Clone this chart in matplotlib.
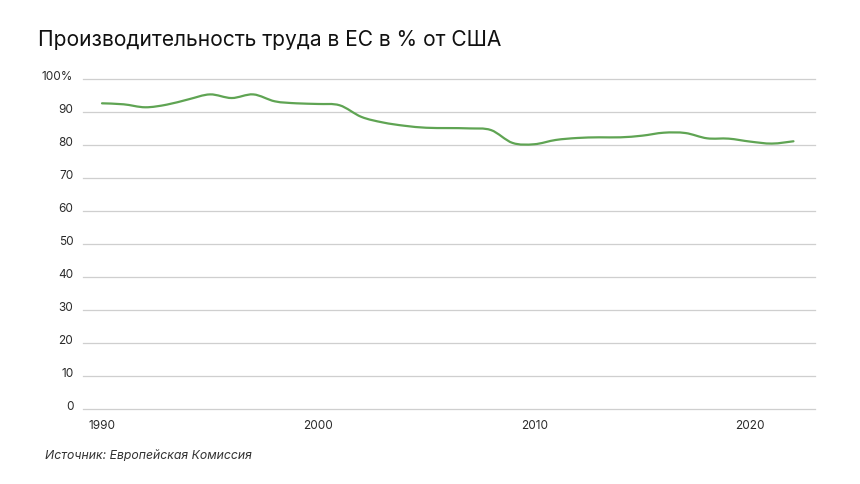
import matplotlib
matplotlib.use("Agg")
import matplotlib.pyplot as plt
import matplotlib.transforms as mtransforms
from matplotlib.path import Path
from matplotlib.patches import PathPatch

plt.rcParams['font.family'] = ['Inter', 'DejaVu Sans']

# EU labour productivity, % of US level
years = list(range(1990, 2023))
values = [92.6, 92.3, 91.4, 92.2, 93.8, 95.3, 94.2, 95.3, 93.2, 92.6,
          92.4, 92.0, 88.5, 86.8, 85.8, 85.2, 85.1, 85.0, 84.5, 80.6,
          80.2, 81.5, 82.1, 82.3, 82.3, 82.8, 83.7, 83.6, 82.0, 81.9,
          81.0, 80.4, 81.1]
y_ticks = [0, 10, 20, 30, 40, 50, 60, 70, 80, 90, 100]
y_labels = ["0", "10", "20", "30", "40", "50", "60", "70", "80", "90", "100%"]
x_ticks = [1990, 2000, 2010, 2020]

title = "Производительность труда в ЕС в % от США"
source = "Источник: Европейская Комиссия"


def smooth_path(xs, ys, t=0.5):
    # Catmull-Rom style bezier through the data points (like a "smooth" line)
    pts = list(zip(xs, ys))
    verts = [pts[0]]
    codes = [Path.MOVETO]
    n = len(pts)
    for i in range(n - 1):
        p0 = pts[i - 1] if i > 0 else pts[i]
        p1, p2 = pts[i], pts[i + 1]
        p3 = pts[i + 2] if i + 2 < n else pts[i + 1]
        c1 = (p1[0] + (p2[0] - p0[0]) * t / 3, p1[1] + (p2[1] - p0[1]) * t / 3)
        c2 = (p2[0] - (p3[0] - p1[0]) * t / 3, p2[1] - (p3[1] - p1[1]) * t / 3)
        verts += [c1, c2, p2]
        codes += [Path.CURVE4] * 3
    return Path(verts, codes)


fig = plt.figure(figsize=(8.6, 4.84), dpi=100)
ax = fig.add_axes([0.0965, 0.155, 0.8515, 0.682])

ax.add_patch(PathPatch(smooth_path(years, values), facecolor="none",
                       edgecolor="#5fa453", linewidth=1.6, capstyle="round"))

ax.set_ylim(0, 100)
ax.set_xlim(1989.12, 2023.01)
ax.set_yticks(y_ticks)
ax.set_yticklabels(y_labels)
ax.set_xticks(x_ticks)
ax.grid(axis="y", color="#cfcfcf", linewidth=0.9)
ax.set_axisbelow(True)
for gl in ax.get_ygridlines():
    gl.set_clip_on(False)
for s in ax.spines.values():
    s.set_visible(False)
ax.tick_params(axis="both", length=0, labelsize=8.5, labelcolor="#2b2b2b")
ax.tick_params(axis="y", pad=7)
ax.tick_params(axis="x", pad=8)

# nudge y labels slightly above their gridlines
offset = mtransforms.ScaledTranslation(0, 3 / 100, fig.dpi_scale_trans)
for lbl in ax.get_yticklabels():
    lbl.set_transform(lbl.get_transform() + offset)

fig.text(38 / 860, 1 - 40 / 484, title, fontsize=15.1, color="#111111",
         va="center", ha="left")
fig.text(45 / 860, 1 - 456 / 484, source, fontsize=8.8, color="#333333",
         style="italic", va="center", ha="left")

fig.savefig("out.png", dpi=100)
